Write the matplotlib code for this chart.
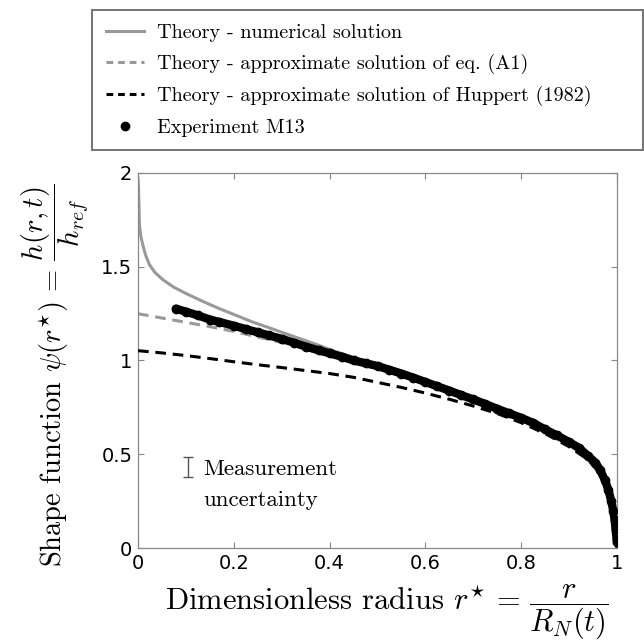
import matplotlib
matplotlib.use("Agg")
import matplotlib.pyplot as plt
from matplotlib.lines import Line2D

plt.rcParams['font.family'] = 'serif'
plt.rcParams['font.serif'] = ['cmr10']
plt.rcParams['mathtext.fontset'] = 'cm'
plt.rcParams['axes.formatter.use_mathtext'] = True

# numerical solution (gray solid)
r_num = [0.0, 0.001, 0.003, 0.006, 0.01, 0.016, 0.024, 0.035, 0.052, 0.075, 0.1, 0.135,
         0.17, 0.205, 0.239, 0.275, 0.309, 0.345, 0.378, 0.41, 0.448, 0.48, 0.511, 0.55,
         0.6, 0.65, 0.7, 0.75, 0.8, 0.85, 0.9, 0.93, 0.95, 0.97, 0.98, 0.99, 0.995, 1.0]
psi_num = [1.97, 1.93, 1.72, 1.66, 1.615, 1.56, 1.51, 1.47, 1.43, 1.39, 1.357, 1.315,
           1.276, 1.24, 1.205, 1.173, 1.142, 1.11, 1.08, 1.05, 1.017, 0.99, 0.963, 0.925,
           0.876, 0.83, 0.784, 0.735, 0.685, 0.625, 0.552, 0.495, 0.452, 0.38, 0.33, 0.25,
           0.18, 0.0]

# approximate solution of eq. (A1) (gray dashed)
r_a1 = [0.0, 0.05, 0.1, 0.15, 0.2, 0.25, 0.3, 0.35, 0.4, 0.45, 0.5, 0.55, 0.6, 0.65,
        0.7, 0.75, 0.8, 0.85, 0.9, 0.93, 0.95, 0.97, 0.98, 0.99, 1.0]
psi_a1 = [1.249, 1.226, 1.203, 1.18, 1.155, 1.125, 1.095, 1.065, 1.033, 1.0, 0.965, 0.92,
          0.876, 0.831, 0.785, 0.736, 0.686, 0.626, 0.552, 0.495, 0.45, 0.378, 0.328,
          0.25, 0.0]

# approximate solution of Huppert (1982) (black dashed)
r_hup = [0.0, 0.05, 0.1, 0.15, 0.2, 0.25, 0.3, 0.35, 0.4, 0.45, 0.5, 0.55, 0.6, 0.65,
         0.7, 0.75, 0.8, 0.85, 0.9, 0.94, 0.97, 0.99, 1.0]
psi_hup = [1.052, 1.04, 1.026, 1.01, 0.993, 0.977, 0.962, 0.946, 0.93, 0.91, 0.883,
           0.856, 0.826, 0.793, 0.757, 0.717, 0.668, 0.61, 0.54, 0.47, 0.38, 0.26, 0.0]

# experiment M13
r_exp = [0.079, 0.1, 0.125, 0.15, 0.17, 0.2, 0.225, 0.25, 0.274, 0.3, 0.325, 0.35, 0.378,
         0.4, 0.425, 0.45, 0.475, 0.5, 0.525, 0.55, 0.575, 0.6, 0.625, 0.65, 0.675, 0.7,
         0.725, 0.75, 0.775, 0.8, 0.825, 0.85, 0.875, 0.9, 0.92, 0.94, 0.955, 0.965,
         0.975, 0.982, 0.988, 0.992, 0.995, 0.997, 0.999, 1.0]
psi_exp = [1.276, 1.26, 1.24, 1.218, 1.205, 1.185, 1.167, 1.15, 1.133, 1.115, 1.095,
           1.074, 1.053, 1.038, 1.02, 1.0, 0.985, 0.97, 0.95, 0.93, 0.908, 0.885, 0.862,
           0.839, 0.815, 0.792, 0.768, 0.742, 0.718, 0.694, 0.667, 0.632, 0.6, 0.565,
           0.535, 0.49, 0.455, 0.415, 0.36, 0.31, 0.25, 0.2, 0.15, 0.1, 0.05, 0.03]

# measurement uncertainty bar
err_r, err_psi, err_half = 0.104, 0.43, 0.054

xticks = [0, 0.2, 0.4, 0.6, 0.8, 1]
xtick_labels = ['0', '0.2', '0.4', '0.6', '0.8', '1']
yticks = [0, 0.5, 1, 1.5, 2]
ytick_labels = ['0', '0.5', '1', '1.5', '2']

labels = ['Theory - numerical solution',
          'Theory - approximate solution of eq. (A1)',
          'Theory - approximate solution of Huppert (1982)',
          'Experiment M13']

fig = plt.figure(figsize=(6.44, 6.43), dpi=100)
ax = fig.add_axes([0.2143, 0.1477, 0.7438, 0.5835])

gray = '#999999'
ax.plot(r_num, psi_num, color=gray, lw=2.2, zorder=2)
ax.plot(r_a1, psi_a1, color=gray, lw=2.2, dashes=(3.5, 2.2), zorder=2)
ax.plot(r_hup, psi_hup, color='black', lw=2.2, dashes=(3.5, 2.2), zorder=3)
ax.plot(r_exp, psi_exp, color='black', lw=6, solid_capstyle='round', zorder=4)
ax.plot(r_exp, psi_exp, 'o', color='black', ms=6, zorder=5)

ax.errorbar([err_r], [err_psi], yerr=[err_half], fmt='none', ecolor='#555555',
            elinewidth=1, capsize=3.5, capthick=1)
ax.text(0.136, 0.42, 'Measurement', fontsize=16.5, va='center', ha='left')
ax.text(0.136, 0.257, 'uncertainty', fontsize=16.5, va='center', ha='left')

ax.set_xlim(0, 1)
ax.set_ylim(0, 2)
ax.set_xticks(xticks)
ax.set_xticklabels(xtick_labels)
ax.set_yticks(yticks)
ax.set_yticklabels(ytick_labels)
ax.tick_params(direction='in', length=4, width=0.8, color='#888888',
               top=True, right=True, labelsize=14, labelfontfamily='DejaVu Sans', pad=4)
for s in ax.spines.values():
    s.set_color('#888888')
    s.set_linewidth(0.9)

ax.set_xlabel(r'Dimensionless radius $r^{\star}\,=\,\dfrac{r}{R_N(t)}$', fontsize=22)
ax.xaxis.set_label_coords(0.52, -0.094)
ax.set_ylabel(r'Shape function $\psi(r^{\star})\,=\,\dfrac{h(r,t)}{h_{ref}}$', fontsize=20.5)
ax.yaxis.set_label_coords(-0.098, 0.461)

handles = [Line2D([], [], color=gray, lw=2.2),
           Line2D([], [], color=gray, lw=2.2, dashes=(2.2, 1.6)),
           Line2D([], [], color='black', lw=2.2, dashes=(2.2, 1.6)),
           Line2D([], [], color='black', marker='o', ms=6, ls='none')]
leg = fig.legend(handles, labels, loc='upper left', bbox_to_anchor=(0.143, 0.771, 0.855, 0.213),
                 mode='expand', borderaxespad=0, fontsize=14.5, frameon=True, fancybox=False,
                 handlelength=1.9, handletextpad=0.65, labelspacing=0.6, borderpad=0.68,
                 numpoints=1)
leg.get_frame().set_edgecolor('#444444')
leg.get_frame().set_linewidth(1.3)

fig.savefig('out.png', dpi=100)
